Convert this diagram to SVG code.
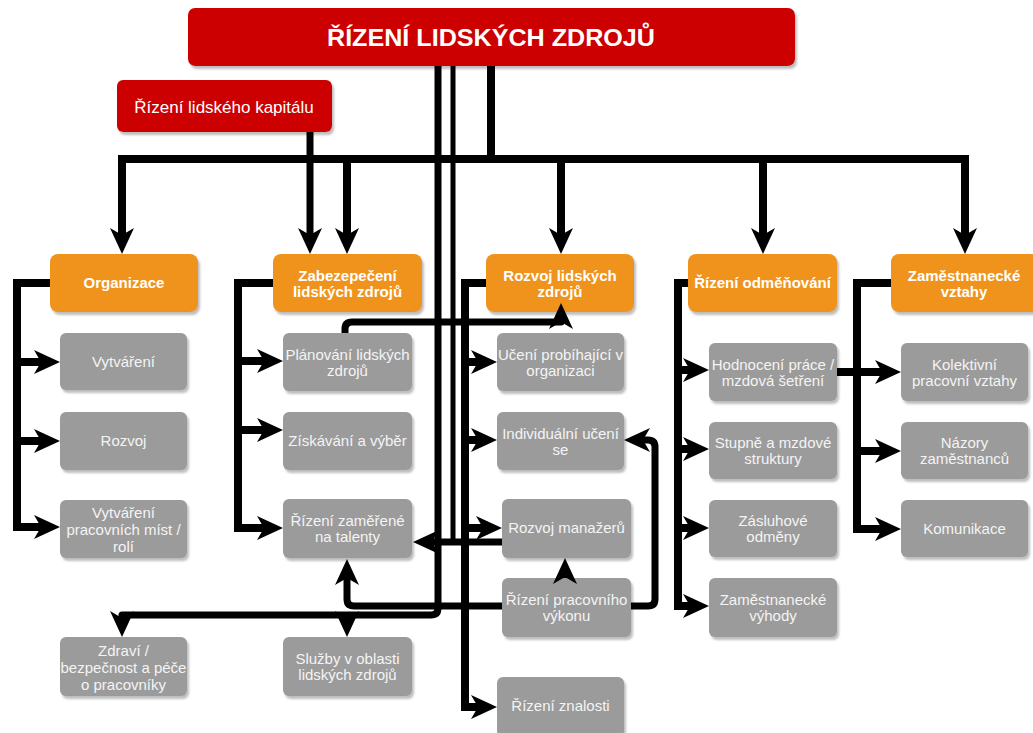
<svg xmlns="http://www.w3.org/2000/svg" width="1033" height="733" viewBox="0 0 1033 733">
<style>
.red{fill:#CC0000}
.org{fill:#F0931E}
.gry{fill:#9B9B9B}
.sh{filter:url(#shadow)}
.t{font-family:"Liberation Sans",Arial,sans-serif;font-weight:bold;font-size:24px;fill:#FFFFFF;text-anchor:middle}
.k{font-family:"Liberation Sans",Arial,sans-serif;font-size:17px;fill:#FFFFFF;text-anchor:middle}
.o{font-family:"Liberation Sans",Arial,sans-serif;font-weight:bold;font-size:15px;fill:#FFFFFF;text-anchor:middle}
.g{font-family:"Liberation Sans",Arial,sans-serif;font-size:15px;fill:#F4F4F4;text-anchor:middle}
.c{fill:none;stroke:#000000;stroke-width:8;stroke-linejoin:miter}
.a{marker-end:url(#ah)}
.r{stroke-linejoin:round}
</style>
<defs>
<filter id="shadow" x="-10%" y="-10%" width="130%" height="140%">
<feDropShadow dx="2" dy="3" stdDeviation="1.2" flood-color="#888888" flood-opacity="0.55"/>
</filter>
<marker id="ah" viewBox="0 0 26 24" markerWidth="26" markerHeight="24" refX="16" refY="12" orient="auto" markerUnits="userSpaceOnUse">
<path d="M0,0 L26,12 L0,24 L7,12 Z" fill="#000000"/>
</marker>
</defs>

<g id="title">
<rect class="red sh" x="188" y="8" width="607" height="58" rx="7"/>
<text class="t" x="491" y="46" textLength="328" lengthAdjust="spacingAndGlyphs">ŘÍZENÍ LIDSKÝCH ZDROJŮ</text>
</g>
<g id="kapital">
<rect class="red sh" x="117" y="80" width="215" height="52" rx="6"/>
<text class="k" x="224" y="113">Řízení lidského kapitálu</text>
</g>

<g id="organizace">
<rect class="org sh" x="50" y="254" width="148" height="58" rx="8"/>
<text class="o" x="124" y="288">Organizace</text>
</g>
<g id="zabezpeceni">
<rect class="org sh" x="273" y="254" width="149" height="58" rx="8"/>
<text class="o" x="347.5" y="280.5">Zabezepečení</text>
<text class="o" x="347.5" y="296.5">lidských zdrojů</text>
</g>
<g id="rozvoj-lz">
<rect class="org sh" x="486" y="254" width="148" height="58" rx="8"/>
<text class="o" x="560" y="280.5">Rozvoj lidských</text>
<text class="o" x="560" y="296.5">zdrojů</text>
</g>
<g id="odmenovani">
<rect class="org sh" x="688" y="254" width="149" height="58" rx="8"/>
<text class="o" x="762.5" y="288">Řízení odměňování</text>
</g>
<g id="vztahy">
<rect class="org sh" x="891" y="254" width="149" height="58" rx="8"/>
<text class="o" x="964" y="280.5">Zaměstnanecké</text>
<text class="o" x="964" y="296.5">vztahy</text>
</g>

<g id="vytvareni">
<rect class="gry sh" x="60" y="333" width="127" height="57" rx="6"/>
<text class="g" x="123.5" y="367">Vytváření</text>
</g>
<g id="rozvoj">
<rect class="gry sh" x="60" y="412" width="127" height="58" rx="6"/>
<text class="g" x="123.5" y="446">Rozvoj</text>
</g>
<g id="mista">
<rect class="gry sh" x="60" y="500" width="127" height="58" rx="6"/>
<text class="g" x="123.5" y="518">Vytváření</text>
<text class="g" x="123.5" y="535">pracovních míst /</text>
<text class="g" x="123.5" y="552">rolí</text>
</g>
<g id="zdravi">
<rect class="gry sh" x="60" y="637" width="127" height="59" rx="6"/>
<text class="g" x="123.5" y="656">Zdraví /</text>
<text class="g" x="123.5" y="673">bezpečnost a péče</text>
<text class="g" x="123.5" y="690">o pracovníky</text>
</g>

<g id="planovani">
<rect class="gry sh" x="283" y="333" width="129" height="58" rx="6"/>
<text class="g" x="347.5" y="360">Plánování lidských</text>
<text class="g" x="347.5" y="376">zdrojů</text>
</g>
<g id="ziskavani">
<rect class="gry sh" x="283" y="412" width="129" height="58" rx="6"/>
<text class="g" x="347.5" y="446">Získávání a výběr</text>
</g>
<g id="talenty">
<rect class="gry sh" x="283" y="499" width="129" height="59" rx="6"/>
<text class="g" x="347.5" y="526">Řízení zaměřené</text>
<text class="g" x="347.5" y="542">na talenty</text>
</g>
<g id="sluzby">
<rect class="gry sh" x="283" y="637" width="129" height="59" rx="6"/>
<text class="g" x="347.5" y="664">Služby v oblasti</text>
<text class="g" x="347.5" y="680">lidských zdrojů</text>
</g>

<g id="uceni-org">
<rect class="gry sh" x="497" y="333" width="127" height="58" rx="6"/>
<text class="g" x="560.5" y="360">Učení probíhající v</text>
<text class="g" x="560.5" y="376">organizaci</text>
</g>
<g id="uceni-ind">
<rect class="gry sh" x="497" y="412" width="127" height="58" rx="6"/>
<text class="g" x="560.5" y="439">Individuální učení</text>
<text class="g" x="560.5" y="455">se</text>
</g>
<g id="manazeri">
<rect class="gry sh" x="502" y="499" width="129" height="59" rx="6"/>
<text class="g" x="566.5" y="533">Rozvoj manažerů</text>
</g>
<g id="vykon">
<rect class="gry sh" x="502" y="578" width="129" height="59" rx="6"/>
<text class="g" x="566.5" y="605">Řízení pracovního</text>
<text class="g" x="566.5" y="621">výkonu</text>
</g>
<g id="znalosti">
<rect class="gry sh" x="497" y="677" width="127" height="60" rx="6"/>
<text class="g" x="560.5" y="711">Řízení znalosti</text>
</g>

<g id="hodnoceni">
<rect class="gry sh" x="709" y="343" width="128" height="58" rx="6"/>
<text class="g" x="773" y="370">Hodnocení práce /</text>
<text class="g" x="773" y="386">mzdová šetření</text>
</g>
<g id="stupne">
<rect class="gry sh" x="709" y="422" width="128" height="57" rx="6"/>
<text class="g" x="773" y="448">Stupně a mzdové</text>
<text class="g" x="773" y="464">struktury</text>
</g>
<g id="zasluhove">
<rect class="gry sh" x="709" y="500" width="128" height="57" rx="6"/>
<text class="g" x="773" y="526">Zásluhové</text>
<text class="g" x="773" y="542">odměny</text>
</g>
<g id="vyhody">
<rect class="gry sh" x="709" y="578" width="128" height="59" rx="6"/>
<text class="g" x="773" y="605">Zaměstnanecké</text>
<text class="g" x="773" y="621">výhody</text>
</g>

<g id="kolektivni">
<rect class="gry sh" x="901" y="343" width="127" height="58" rx="6"/>
<text class="g" x="964.5" y="370">Kolektivní</text>
<text class="g" x="964.5" y="386">pracovní vztahy</text>
</g>
<g id="nazory">
<rect class="gry sh" x="901" y="422" width="127" height="57" rx="6"/>
<text class="g" x="964.5" y="448">Názory</text>
<text class="g" x="964.5" y="464">zaměstnanců</text>
</g>
<g id="komunikace">
<rect class="gry sh" x="901" y="500" width="127" height="57" rx="6"/>
<text class="g" x="964.5" y="534">Komunikace</text>
</g>

<g id="connectors">
<path class="c" d="M491,66 L491,159"/>
<path class="c" d="M118,159 L969,159"/>
<path class="c a" d="M122,159 L122,244"/>
<path class="c a" d="M347,159 L347,244"/>
<path class="c a" d="M561,159 L561,244"/>
<path class="c a" d="M763,159 L763,244"/>
<path class="c a" d="M965,159 L965,244"/>
<path class="c a" style="stroke-width:7" d="M310,132 L310,244"/>

<path class="c a r" style="stroke-width:7" d="M438,66 L438,608 Q438,615 431,615 L122,615 L122,627"/>
<path class="c a" style="stroke-width:7" d="M347,615 L347,627"/>
<path class="c" style="stroke-width:5" d="M453,66 L453,545"/>

<path class="c a" style="stroke-width:7" d="M502,542 L423,542"/>
<path class="c a r" style="stroke-width:7" d="M502,606 L354,606 Q347,606 347,599 L347,569"/>
<path class="c a r" style="stroke-width:7" d="M631,606 L648,606 Q655,606 655,599 L655,447 Q655,440 648,440 L634,440"/>
<path class="c a" style="stroke-width:7" d="M565,578 L565,568"/>
<path class="c a r" style="stroke-width:7" d="M345,333 L345,329 Q345,322 352,322 L561,322 L561,313"/>

<path class="c a" d="M50,283 L17,283 L17,527 L50,527"/>
<path class="c a" d="M17,362 L50,362"/>
<path class="c a" d="M17,441 L50,441"/>

<path class="c a" d="M273,283 L238,283 L238,528 L273,528"/>
<path class="c a" d="M238,361 L273,361"/>
<path class="c a" d="M238,430 L273,430"/>

<path class="c a" d="M486,283 L465,283 L465,707 L487,707"/>
<path class="c a" d="M465,362 L487,362"/>
<path class="c a" d="M465,440 L487,440"/>
<path class="c a" d="M465,528 L492,528"/>

<path class="c a" d="M688,283 L678,283 L678,606 L699,606"/>
<path class="c a" d="M678,370 L699,370"/>
<path class="c a" d="M678,449 L699,449"/>
<path class="c a" d="M678,528 L699,528"/>

<path class="c a" d="M891,283 L857,283 L857,529 L891,529"/>
<path class="c a" d="M857,372 L891,372"/>
<path class="c a" d="M857,451 L891,451"/>
<path class="c" d="M837,372 L857,372"/>
</g>
</svg>
